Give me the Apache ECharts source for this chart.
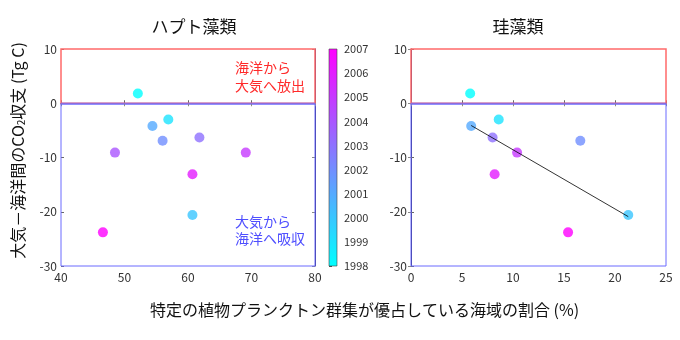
<!DOCTYPE html>
<html><head><meta charset="utf-8">
<script src="https://cdn.jsdelivr.net/npm/echarts@6/dist/echarts.min.js"></script>
<style>html,body{margin:0;padding:0;background:#fff}#c{width:680px;height:340px}</style>
</head><body><div id="c"></div>
<script>
// ---- data ----
const haptoYears = [1998, 1999, 2000, 2001, 2002, 2003, 2004, 2005, 2006, 2007];
const haptoX = [52.1, 56.9, 60.7, 54.4, 56.0, 61.8, 48.5, 69.1, 60.7, 46.6];
const haptoY = [1.8, -3.0, -20.6, -4.2, -6.9, -6.3, -9.1, -9.1, -13.1, -23.8];
const diatomYears = [1998, 1999, 2000, 2001, 2002, 2003, 2005, 2006, 2007];
const diatomX = [5.8, 8.6, 21.3, 5.9, 16.6, 8.0, 10.4, 8.2, 15.4];
const diatomY = [1.8, -3.0, -20.6, -4.2, -6.9, -6.3, -9.1, -13.1, -23.8];
const fitX = [5.9, 21.3];
const fitY = [-4.1, -20.9];
const yearRange = [1998, 2007];
const titles = ['ハプト藻類', '珪藻類'];
const xName = '特定の植物プランクトン群集が優占している海域の割合 (%)';
const releaseText = '海洋から\n大気へ放出';
const absorbText = '大気から\n海洋へ吸収';

const FONT = '"Noto Sans CJK JP", "Noto Sans", sans-serif';
const chart = echarts.init(document.getElementById('c'));

const pts = (xs, ys, yrs) => xs.map((x, i) => [x, ys[i], yrs[i]]);
const regionAreas = {
  silent: true,
  data: [
    [{ yAxis: 0, itemStyle: { color: 'rgba(0,0,0,0)', borderColor: '#ff6a6a', borderWidth: 1.5 } }, { yAxis: 10 }],
    [{ yAxis: -30, itemStyle: { color: 'rgba(0,0,0,0)', borderColor: '#6b6bff', borderWidth: 1 } }, { yAxis: 0 }]
  ]
};

const tickLbl = { color: '#333', fontSize: 12, fontFamily: FONT };
function mainX(idx, min, max, interval) {
  return [
    { gridIndex: idx, type: 'value', min, max, interval, position: 'bottom',
      axisLine: { show: true, lineStyle: { color: '#6b6bff', width: 1.5 } },
      axisTick: { show: true, inside: true, length: 3, lineStyle: { color: '#666' } },
      axisLabel: Object.assign({ margin: 5 }, tickLbl), splitLine: { show: false } },
    { gridIndex: idx, type: 'value', min, max, interval, position: 'top',
      axisLine: { show: true, lineStyle: { color: '#800000', width: 1 } },
      axisTick: { show: true, inside: true, length: 3, lineStyle: { color: '#888' } },
      axisLabel: { show: false }, splitLine: { show: false } }
  ];
}
function mainY(idx, withName) {
  const a = { gridIndex: idx, type: 'value', min: -30, max: 10, interval: 10, position: 'left',
    axisLine: { show: false },
    axisTick: { show: true, inside: true, length: 3, lineStyle: { color: '#666' } },
    axisLabel: Object.assign({ margin: 4 }, tickLbl), splitLine: { show: false } };
  if (withName) {
    a.name = '大気－海洋間のCO{sub|2}収支 (Tg C)';
    a.nameLocation = 'middle';
    a.nameGap = 35;
    a.nameTextStyle = { color: '#111', fontSize: 16, fontFamily: FONT, padding: [0, 0, 0, 14],
      rich: { sub: { fontSize: 10, verticalAlign: 'bottom', padding: [6, 0, 0, 0], fontFamily: FONT, color: '#111' } } };
  }
  return [a,
    { gridIndex: idx, type: 'value', min: -30, max: 10, interval: 10, position: 'right',
      axisLine: { show: true, lineStyle: { color: '#30307a', width: 1 } },
      axisTick: { show: true, inside: true, length: 3, lineStyle: { color: '#888' } },
      axisLabel: { show: false }, splitLine: { show: false } }];
}

const xAxes = [].concat(mainX(0, 40, 80, 10), mainX(2, 0, 25, 5),
  [{ gridIndex: 1, type: 'value', min: 0, max: 1, show: false }]);
const yAxes = [].concat(mainY(0, true), mainY(2, false),
  [{ gridIndex: 1, type: 'value', min: yearRange[0], max: yearRange[1], interval: 1, position: 'right',
     axisLine: { show: false },
     axisTick: { show: true, length: 3, lineStyle: { color: '#555' } },
     axisLabel: { color: '#333', fontSize: 11, fontFamily: FONT, margin: 7, formatter: v => String(v) },
     splitLine: { show: false } }]);

chart.setOption({
  animation: false,
  backgroundColor: '#fff',
  title: [
    { text: titles[0], left: 189, top: 13, textAlign: 'center', textStyle: { fontSize: 17, fontWeight: 'normal', color: '#111', fontFamily: FONT } },
    { text: titles[1], left: 513, top: 13, textAlign: 'center', textStyle: { fontSize: 17, fontWeight: 'normal', color: '#111', fontFamily: FONT } }
  ],
  grid: [
    { left: 61, top: 49, width: 254, height: 217 },
    { left: 329, top: 49, width: 8, height: 217 },
    { left: 411, top: 49, width: 255, height: 217 }
  ],
  xAxis: xAxes,
  yAxis: yAxes,
  visualMap: {
    type: 'continuous', show: false, dimension: 2, seriesIndex: [0, 1],
    min: yearRange[0], max: yearRange[1], inRange: { color: ['#00ffff', '#ff00ff'] }
  },
  series: [
    { type: 'scatter', xAxisIndex: 0, yAxisIndex: 0, symbolSize: 10, data: pts(haptoX, haptoY, haptoYears),
      markArea: regionAreas, z: 3 },
    { type: 'scatter', xAxisIndex: 2, yAxisIndex: 2, symbolSize: 10, data: pts(diatomX, diatomY, diatomYears),
      markArea: regionAreas, z: 3 },
    { type: 'line', xAxisIndex: 2, yAxisIndex: 2, data: fitX.map((x, i) => [x, fitY[i]]),
      symbol: 'none', lineStyle: { color: '#000', width: 0.8 }, z: 5, silent: true },
    { type: 'custom', xAxisIndex: 4, yAxisIndex: 4, data: [[0, yearRange[0], 1, yearRange[1]]],
      encode: { x: [0, 2], y: [1, 3] },
      renderItem: function (params, api) {
        const tl = api.coord([api.value(0), api.value(3)]);
        const br = api.coord([api.value(2), api.value(1)]);
        return { type: 'rect', shape: { x: tl[0], y: tl[1], width: br[0] - tl[0], height: br[1] - tl[1] },
          style: { fill: new echarts.graphic.LinearGradient(0, 0, 0, 1, [
            { offset: 0, color: '#ff00ff' }, { offset: 1, color: '#00ffff' }]), stroke: '#444', lineWidth: 0.6 } };
      } }
  ],
  graphic: [
    { type: 'text', left: 235, top: 59, style: { text: releaseText, fill: '#ff2a2a', fontSize: 14, lineHeight: 18, fontFamily: FONT } },
    { type: 'text', left: 235, top: 213, style: { text: absorbText, fill: '#4f4fff', fontSize: 14, lineHeight: 17, fontFamily: FONT } },
    { type: 'text', left: 150, top: 302, style: { text: xName, fill: '#111', fontSize: 16, fontFamily: FONT } }
  ]
});
</script></body></html>
